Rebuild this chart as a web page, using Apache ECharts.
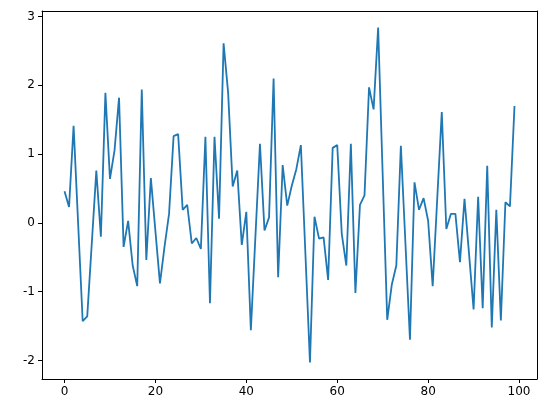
<!DOCTYPE html>
<html lang="en">

<head>
  <meta charset="UTF-8">
  <title>Random walk line</title>
  <script src="https://cdn.jsdelivr.net/npm/echarts@6/dist/echarts.min.js"></script>
</head>

<body style="margin: 0;padding: 0;background: #fff;">
  <div id="main" style="width: 546px;height: 413px;"></div>
  <script>
    // values, index 0..99
    var values = [
      0.46, 0.23, 1.41, -0.01, -1.43, -1.36, -0.3, 0.76, -0.2, 1.89,
      0.64, 1.05, 1.82, -0.35, 0.03, -0.62, -0.92, 1.94, -0.54, 0.65,
      -0.12, -0.88, -0.35, 0.13, 1.26, 1.29, 0.19, 0.26, -0.3, -0.22,
      -0.38, 1.25, -1.17, 1.25, 0.06, 2.61, 1.89, 0.53, 0.76, -0.32,
      0.16, -1.56, -0.2, 1.15, -0.11, 0.08, 2.1, -0.79, 0.84, 0.25,
      0.54, 0.78, 1.13, -0.45, -2.03, 0.09, -0.23, -0.21, -0.83, 1.09,
      1.13, -0.16, -0.62, 1.15, -1.02, 0.26, 0.4, 1.97, 1.65, 2.84,
      0.7, -1.41, -0.9, -0.62, 1.12, -0.29, -1.7, 0.59, 0.19, 0.36,
      0.03, -0.92, 0.35, 1.61, -0.09, 0.13, 0.13, -0.57, 0.35, -0.45,
      -1.26, 0.38, -1.24, 0.83, -1.52, 0.19, -1.42, 0.3, 0.24, 1.7
    ];
    var xTicks = [0, 20, 40, 60, 80, 100];
    var yTicks = [-2, -1, 0, 1, 2, 3];
    var xRange = [-4.95, 103.95];
    var yRange = [-2.27, 3.08];

    var points = values.map(function (v, i) { return [i, v]; });

    var chart = echarts.init(document.getElementById('main'));
    var font = { fontFamily: 'DejaVu Sans', fontSize: 12, color: '#000' };
    var edge = { show: true, onZero: false, lineStyle: { color: '#000', width: 1 } };

    function mainAxis(range, ticks, pos) {
      return {
        type: 'value',
        position: pos,
        min: range[0],
        max: range[1],
        splitLine: { show: false },
        axisLine: edge,
        axisTick: { show: true, length: 4, customValues: ticks, lineStyle: { color: '#000' } },
        axisLabel: Object.assign({ margin: 7, customValues: ticks }, font)
      };
    }
    // plain frame sides (top / right)
    function frameAxis(range, pos) {
      return {
        type: 'value',
        position: pos,
        min: range[0],
        max: range[1],
        splitLine: { show: false },
        axisLine: edge,
        axisTick: { show: false },
        axisLabel: { show: false }
      };
    }

    var option = {
      animation: false,
      grid: { left: 42, right: 9, top: 11, bottom: 34 },
      xAxis: [mainAxis(xRange, xTicks, 'bottom'), frameAxis(xRange, 'top')],
      yAxis: [mainAxis(yRange, yTicks, 'left'), frameAxis(yRange, 'right')],
      series: [
        {
          type: 'line',
          data: points,
          showSymbol: false,
          lineStyle: { color: '#1f77b4', width: 1.8 }
        }
      ]
    };

    chart.setOption(option);
  </script>
</body>

</html>
